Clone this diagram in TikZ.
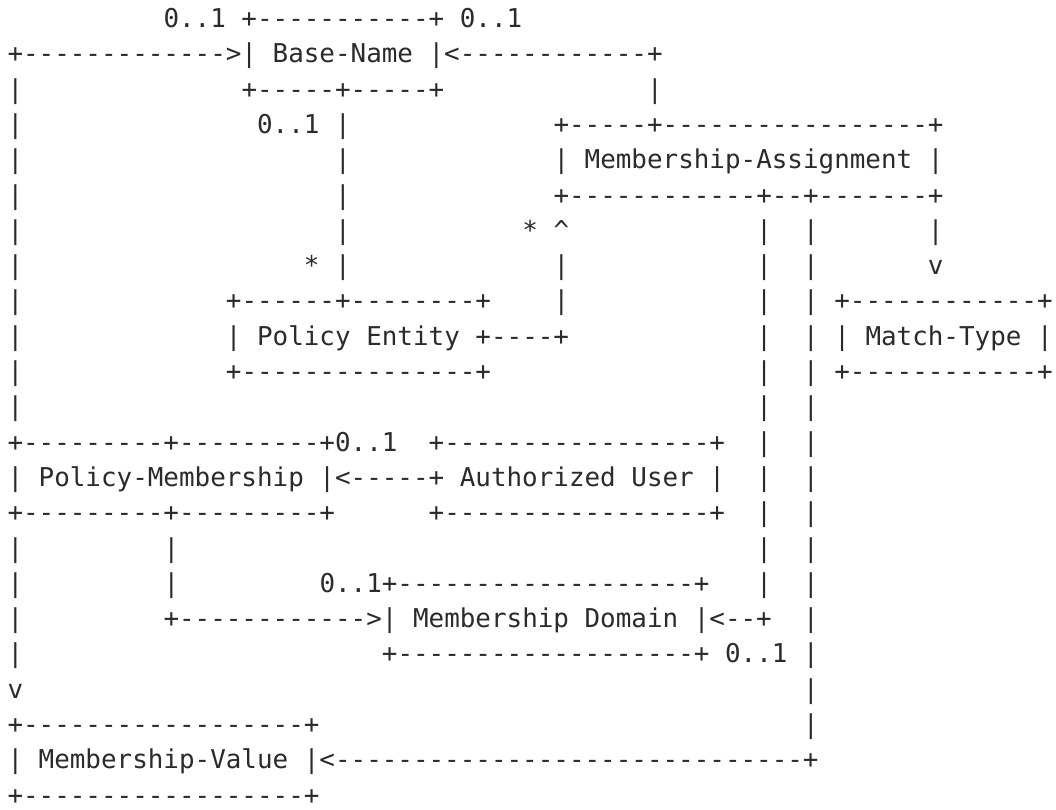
\documentclass[tikz,border=0pt]{standalone}
\usepackage{fontspec}
\setmonofont{DejaVu Sans Mono}
\definecolor{ink}{HTML}{2B2B2B}
\newcommand\Dsh[1]{\ifnum#1>0 -\expandafter\Dsh\expandafter{\number\numexpr#1-1\relax}\fi}
\newcommand\seg[3]{\node[seg] (s#1c#2) at ({7.5+#2*15.6},{-27.5-(#1-1)*35.3}) {#3};}
\tikzset{seg/.style={anchor=base west, inner sep=0pt, outer sep=0pt, text=ink,
  font=\ttfamily\frenchspacing\fontsize{25.91pt}{35.3pt}\selectfont}}
\begin{document}
\begin{tikzpicture}[x=1pt,y=1pt]
\fill[white] (0,0) rectangle (1056,-809);
\useasboundingbox (0,0) rectangle (1056,-809);
% row 1
\seg{1}{10}{0..1 +\Dsh{11}+ 0..1}
% row 2
\seg{2}{0}{+\Dsh{13}>| Base-Name |<\Dsh{12}+}
% row 3
\seg{3}{0}{|}\seg{3}{15}{+\Dsh{5}+\Dsh{5}+}\seg{3}{41}{|}
% row 4
\seg{4}{0}{|}\seg{4}{16}{0..1 |}\seg{4}{35}{+\Dsh{5}+\Dsh{17}+}
% row 5
\seg{5}{0}{|}\seg{5}{21}{|}\seg{5}{35}{| Membership-Assignment |}
% row 6
\seg{6}{0}{|}\seg{6}{21}{|}\seg{6}{35}{+\Dsh{12}+\Dsh{2}+\Dsh{7}+}
% row 7
\seg{7}{0}{|}\seg{7}{21}{|}\seg{7}{33}{* \symbol{94}}\seg{7}{48}{|}\seg{7}{51}{|}\seg{7}{59}{|}
% row 8
\seg{8}{0}{|}\seg{8}{19}{* |}\seg{8}{35}{|}\seg{8}{48}{|}\seg{8}{51}{|}\seg{8}{59}{v}
% row 9
\seg{9}{0}{|}\seg{9}{14}{+\Dsh{6}+\Dsh{8}+}\seg{9}{35}{|}\seg{9}{48}{|}\seg{9}{51}{| +\Dsh{12}+}
% row 10
\seg{10}{0}{|}\seg{10}{14}{| Policy Entity +\Dsh{4}+}\seg{10}{48}{|}\seg{10}{51}{| | Match-Type |}
% row 11
\seg{11}{0}{|}\seg{11}{14}{+\Dsh{15}+}\seg{11}{48}{|}\seg{11}{51}{| +\Dsh{12}+}
% row 12
\seg{12}{0}{|}\seg{12}{48}{|}\seg{12}{51}{|}
% row 13
\seg{13}{0}{+\Dsh{9}+\Dsh{9}+0..1}\seg{13}{27}{+\Dsh{17}+}\seg{13}{48}{|}\seg{13}{51}{|}
% row 14
\seg{14}{0}{| Policy-Membership |<\Dsh{5}+ Authorized User |}\seg{14}{48}{|}\seg{14}{51}{|}
% row 15
\seg{15}{0}{+\Dsh{9}+\Dsh{9}+}\seg{15}{27}{+\Dsh{17}+}\seg{15}{48}{|}\seg{15}{51}{|}
% row 16
\seg{16}{0}{|}\seg{16}{10}{|}\seg{16}{48}{|}\seg{16}{51}{|}
% row 17
\seg{17}{0}{|}\seg{17}{10}{|}\seg{17}{20}{0..1+\Dsh{19}+}\seg{17}{48}{|}\seg{17}{51}{|}
% row 18
\seg{18}{0}{|}\seg{18}{10}{+\Dsh{12}>| Membership Domain |<\Dsh{2}+}\seg{18}{51}{|}
% row 19
\seg{19}{0}{|}\seg{19}{24}{+\Dsh{19}+ 0..1 |}
% row 20
\seg{20}{0}{v}\seg{20}{51}{|}
% row 21
\seg{21}{0}{+\Dsh{18}+}\seg{21}{51}{|}
% row 22
\seg{22}{0}{| Membership-Value |<\Dsh{30}+}
% row 23
\seg{23}{0}{+\Dsh{18}+}
\end{tikzpicture}
\end{document}
